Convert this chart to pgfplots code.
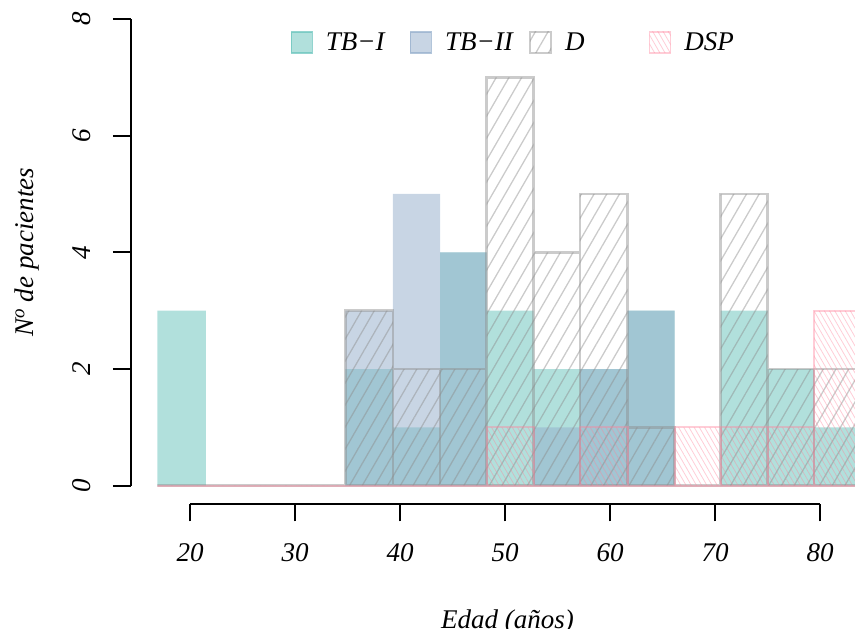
\documentclass[border=0pt]{standalone}
\usepackage{fontspec}
\setmainfont{Liberation Serif}
\usepackage{pgfplots}
\usepackage{pgfplotstable}
\pgfplotsset{compat=1.18}
\usetikzlibrary{patterns.meta}
\definecolor{tbI}{RGB}{100,194,186}
\definecolor{tbII}{RGB}{146,172,202}
\definecolor{dgray}{RGB}{140,140,140}
\definecolor{dsp}{RGB}{255,130,155}
\newcommand{\fs}{\fontsize{27}{32}\selectfont\itshape}
\pgfplotstableread{
edge tbI tbII d dsp
16.89 3 0 0 0
21.50 0 0 0 0
25.90 0 0 0 0
30.35 0 0 0 0
34.79 2 3 3 0
39.33 1 5 2 0
43.81 4 4 2 0
48.26 3 0 7 1
52.72 2 1 4 0
57.14 2 2 5 1
61.67 3 3 1 0
66.16 0 0 0 1
70.54 3 0 5 1
75.02 2 0 2 1
79.43 1 0 2 3
83.95 0 0 0 0
}\hist
\begin{document}
\begin{tikzpicture}
\useasboundingbox (0,0) rectangle (855pt,629pt);
\clip (0,0) rectangle (855pt,629pt);
\begin{axis}[
  at={(131pt,143.3pt)}, anchor=south west,
  x=10.5pt, y=58.34pt,
  xmin=14.38, xmax=84.5, ymin=0, ymax=8,
  clip=false,
  axis x line*=bottom,
  x axis line style={draw=none},
  xtick=\empty,
  axis y line*=left,
  y axis line style={-, line width=2.3pt, black},
  ytick={0,2,4,6,8},
  yticklabels={0,2,4,6,8},
  tick align=outside,
  major tick length=18pt,
  tick style={line width=2.3pt, black},
  yticklabel style={font=\fs, rotate=90, anchor=base, yshift=22pt},
  ylabel={N\textsuperscript{o} de pacientes},
  every axis y label/.style={at={(axis description cs:-0.1327,0.5)}, rotate=90, anchor=base, font=\fs},
  xlabel={Edad (años)},
  every axis x label/.style={at={(axis description cs:0.5114,-0.306)}, anchor=base, font=\fs},
  legend columns=4,
  legend cell align=left,
  legend style={draw=none, fill=none, inner sep=0pt, outer sep=0pt,
    at={(0.2169,0.9497)}, anchor=west, font=\fs, nodes={inner sep=0pt},
    /tikz/every odd column/.style={column sep=13pt}},
]
\addplot[ybar interval, fill=tbI, fill opacity=0.5, draw=none,
  legend image code/.code={\filldraw[fill=tbI, draw=tbI, fill opacity=0.5, draw opacity=0.7, line width=1.2pt] (0pt,-10.5pt) rectangle (21pt,10.5pt);}]
  table[x=edge, y=tbI] {\hist};
\addlegendentry{\makebox[84pt][l]{TB−I}}
\addplot[ybar interval, fill=tbII, fill opacity=0.5, draw=none,
  legend image code/.code={\filldraw[fill=tbII, draw=tbII, fill opacity=0.5, draw opacity=0.7, line width=1.2pt] (0pt,-10.5pt) rectangle (21pt,10.5pt);}]
  table[x=edge, y=tbII] {\hist};
\addlegendentry{\makebox[84pt][l]{TB−II}}
\addplot[ybar interval, draw=dgray, line width=2.6pt, opacity=0.45,
  pattern={Lines[angle=60, distance=11pt, line width=1.3pt]}, pattern color=dgray,
  legend image code/.code={\draw[draw=dgray, opacity=0.45, line width=2pt, pattern={Lines[angle=60, distance=11pt, line width=1.3pt]}, pattern color=dgray] (0pt,-10.5pt) rectangle (21pt,10.5pt);}]
  table[x=edge, y=d] {\hist};
\addlegendentry{\makebox[84pt][l]{D}}
\addplot[ybar interval, draw=dsp, line width=2pt, opacity=0.4,
  pattern={Lines[angle=-60, distance=4.5pt, line width=0.8pt]}, pattern color=dsp,
  legend image code/.code={\draw[draw=dsp, opacity=0.4, line width=1.2pt, pattern={Lines[angle=-60, distance=4.5pt, line width=0.8pt]}, pattern color=dsp] (0pt,-10.5pt) rectangle (21pt,10.5pt);}]
  table[x=edge, y=dsp] {\hist};
\addlegendentry{\makebox[84pt][l]{DSP}}
\end{axis}
\begin{axis}[
  at={(190pt,124.7pt)}, anchor=south west,
  x=10.5pt, y=1pt, xmin=20, xmax=80, ymin=0, ymax=1,
  axis y line=none, axis x line*=bottom,
  x axis line style={-, line width=2.3pt, black},
  xtick={20,30,40,50,60,70,80},
  xticklabels={20,30,40,50,60,70,80},
  tick align=outside, major tick length=17pt,
  tick style={line width=2.3pt, black},
  xticklabel style={font=\fs, anchor=base, yshift=-40pt},
]
\end{axis}
\end{tikzpicture}
\end{document}
